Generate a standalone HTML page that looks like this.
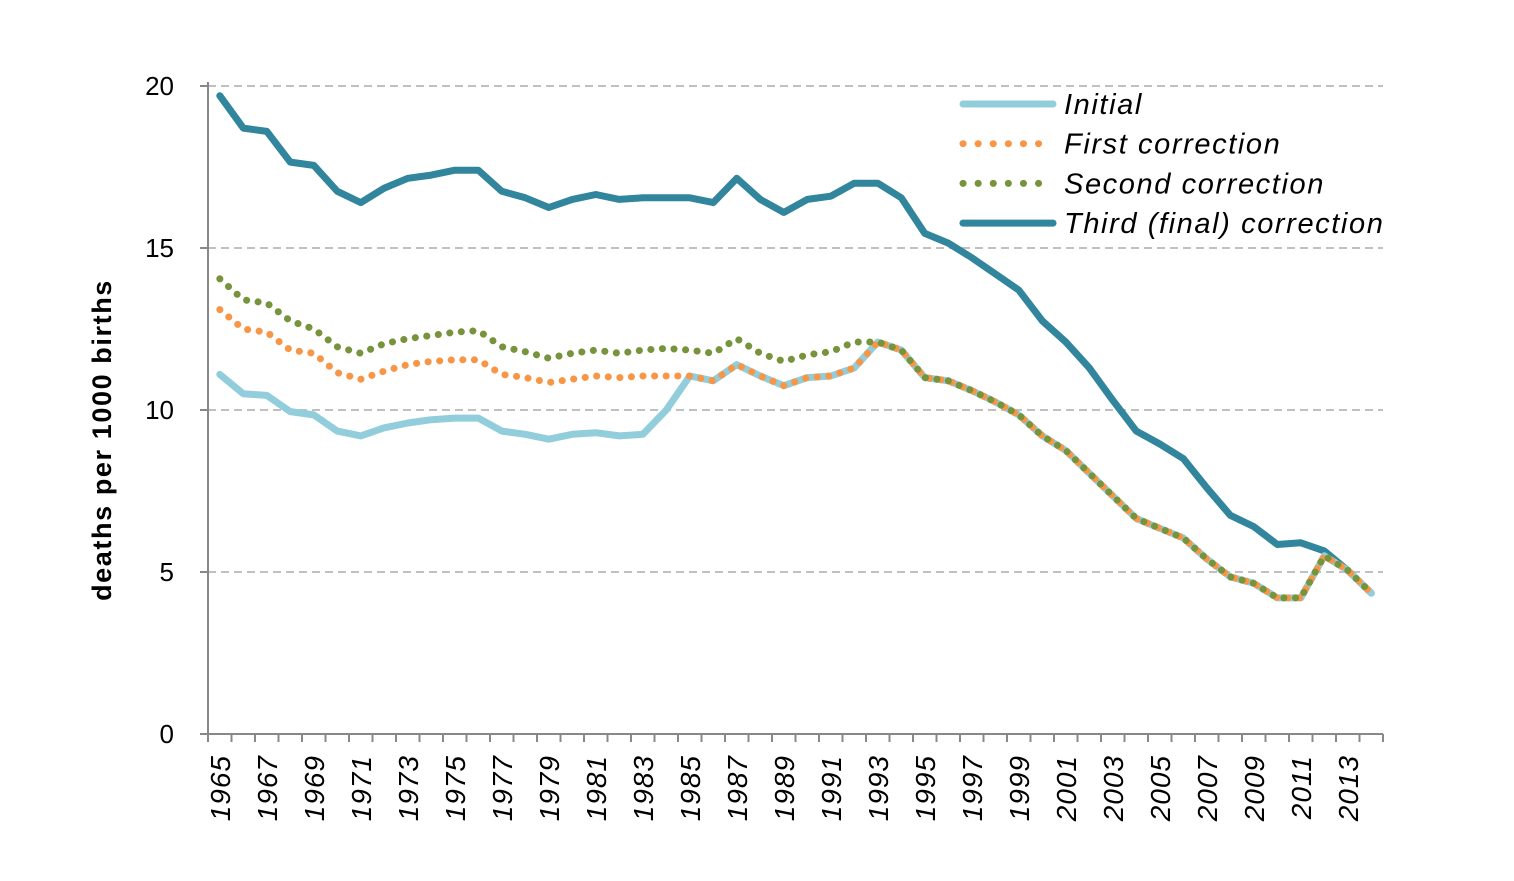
<!DOCTYPE html>
<html><head><meta charset="utf-8"><style>
body{margin:0;background:#fff;}
svg text{font-family:"Liberation Sans",sans-serif;}
</style></head><body>
<svg id="chart" width="1514" height="876" xmlns="http://www.w3.org/2000/svg">
<g id="grid"></g><g id="axes"></g><g id="series"></g><g id="legend"></g>
</svg>
<script>
const years = [];
for (let y = 1965; y <= 2014; y++) years.push(y);
const initial = [11.1,10.5,10.45,9.95,9.85,9.35,9.2,9.45,9.6,9.7,9.75,9.75,9.35,9.25,9.1,9.25,9.3,9.2,9.25,10.0,11.05,10.9,11.4,11.05,10.75,11.0,11.05,11.3,12.1,11.85,11.0,10.9,10.6,10.25,9.85,9.2,8.75,8.05,7.35,6.65,6.35,6.05,5.4,4.85,4.65,4.2,4.2,5.5,5.05,4.35];
const firstCorr = [13.1,12.5,12.4,11.85,11.75,11.15,10.95,11.2,11.4,11.5,11.55,11.55,11.1,11.0,10.85,10.95,11.05,11.0,11.05,11.05,11.05,10.9,11.4,11.05,10.75,11.0,11.05,11.3,12.1,11.85,11.0,10.9,10.6,10.25,9.85,9.2,8.75,8.05,7.35,6.65,6.35,6.05,5.4,4.85,4.65,4.2,4.2,5.5,5.05,4.35];
const secondCorr = [14.05,13.4,13.3,12.75,12.5,11.95,11.75,12.05,12.2,12.3,12.4,12.45,11.95,11.8,11.6,11.75,11.85,11.75,11.85,11.9,11.85,11.75,12.2,11.75,11.5,11.7,11.8,12.1,12.1,11.85,11.0,10.9,10.6,10.25,9.85,9.2,8.75,8.05,7.35,6.65,6.35,6.05,5.4,4.85,4.65,4.2,4.2,5.5,5.05,4.35];
const thirdCorr = [19.7,18.7,18.6,17.65,17.55,16.75,16.4,16.85,17.15,17.25,17.4,17.4,16.75,16.55,16.25,16.5,16.65,16.5,16.55,16.55,16.55,16.4,17.15,16.5,16.1,16.5,16.6,17.0,17.0,16.55,15.45,15.15,14.7,14.2,13.7,12.75,12.1,11.3,10.3,9.35,8.95,8.5,7.6,6.75,6.4,5.85,5.9,5.65,5.05,4.35];
const yTicks = [0,5,10,15,20];
const legendLabels = ["Initial","First correction","Second correction","Third (final) correction"];

const NS="http://www.w3.org/2000/svg";
const X0=208, X1=1383, Y0=734, Y1=86, YMAX=20;
const step=(X1-X0)/years.length;
const xs=i=>X0+step*(i+0.5);
const ys=v=>Y0-(v/YMAX)*(Y0-Y1);
function mk(tag,attrs,parent){const e=document.createElementNS(NS,tag);for(const k in attrs)e.setAttribute(k,attrs[k]);parent.appendChild(e);return e;}
const grid=document.getElementById('grid'),axes=document.getElementById('axes'),ser=document.getElementById('series'),leg=document.getElementById('legend');

yTicks.forEach(t=>{
  if(t>0){const g=mk('line',{x1:X0,x2:X1,y1:ys(t),y2:ys(t),stroke:'#c0c0c0','stroke-width':2,'stroke-dasharray':'8,5'},grid);
  
  }
  const tk=mk('line',{x1:X0-8,x2:X0,y1:ys(t),y2:ys(t),stroke:'#888','stroke-width':2},axes);
  
  
  const tx=mk('text',{x:174,y:ys(t)+9,'text-anchor':'end','font-size':26,fill:'#000'},axes);
  tx.textContent=t;
  
  
});
const ya=mk('line',{x1:X0,x2:X0,y1:Y1-4,y2:Y0,stroke:'#888','stroke-width':2},axes);


const xa=mk('line',{x1:X0,x2:X1,y1:Y0,y2:Y0,stroke:'#888','stroke-width':2},axes);


for(let i=0;i<=years.length;i++){
  const t=mk('line',{x1:X0+step*i,x2:X0+step*i,y1:Y0,y2:Y0+8,stroke:'#888','stroke-width':2},axes);
  
  
}
years.forEach((y,i)=>{
  if(i%2!==0)return;
  const x=xs(i)+10;
  const t=mk('text',{x:x,y:755,'text-anchor':'end','font-size':28,'letter-spacing':1,'font-style':'italic',fill:'#000',transform:`rotate(-90 ${x} 755)`},axes);
  t.textContent=y;
  
  
});
const yt=mk('text',{x:0,y:0,'text-anchor':'middle','font-size':27,'letter-spacing':1.6,'font-weight':'bold',fill:'#000',transform:'translate(111,440) rotate(-90)'},axes);
yt.textContent='deaths per 1000 births';



const styles=[
 {data:initial,color:'#92cddc',w:7,dash:null,name:'initial-line'},
 {data:firstCorr,color:'#f79646',w:7,dash:'0.1,11.5',name:'first-correction-line'},
 {data:secondCorr,color:'#77933c',w:7,dash:'0.1,11.5',name:'second-correction-line'},
 {data:thirdCorr,color:'#31859c',w:7,dash:null,name:'third-correction-line'}
];
const order=[3,0,1,2];
order.forEach(k=>{
  const s=styles[k];
  const d=s.data.map((v,i)=>(i?'L':'M')+xs(i).toFixed(1)+','+ys(v).toFixed(1)).join('');
  const a={d:d,fill:'none',stroke:s.color,'stroke-width':s.w,'stroke-linejoin':'round','stroke-linecap':'round'};
  if(s.dash)a['stroke-dasharray']=s.dash;
  const p=mk('path',a,ser);
  
  
});
styles.forEach((s,k)=>{
  const yy=104+k*39.7;
  const a={x1:963,x2:1053,y1:yy,y2:yy,stroke:s.color,'stroke-width':7,'stroke-linecap':'round'};
  if(s.dash){a['stroke-dasharray']='0.1,15';a.x2=1043;}
  const l=mk('line',a,leg);
  
  
  const t=mk('text',{x:1064,y:yy+10,'font-size':29,'letter-spacing':1.6,'font-style':'italic',fill:'#000'},leg);
  t.textContent=legendLabels[k];
  
  
});
</script>
</body></html>
